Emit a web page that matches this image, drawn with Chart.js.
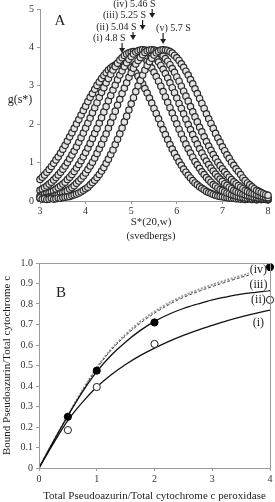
<!DOCTYPE html>
<html>
<head>
<meta charset="utf-8">
<script src="https://cdn.jsdelivr.net/npm/chart.js@4.4.1/dist/chart.umd.min.js"></script>
<style>
  html, body { margin: 0; padding: 0; background: #fff; }
  #wrap { position: relative; width: 275px; height: 502px; overflow: hidden; }
  canvas { position: absolute; left: 0; }
  #chartA { top: 0; }
  #chartB { top: 246px; }
</style>
</head>
<body>
<div id="wrap">
  <canvas id="chartA" width="275" height="246"></canvas>
  <canvas id="chartB" width="275" height="256"></canvas>
</div>
<script>
// ---- panel A : g(s*) distributions ----
const sedCoef = [
  3, 3.05, 3.1, 3.15, 3.2, 3.25, 3.3, 3.35, 3.4, 3.45,
  3.5, 3.55, 3.6, 3.65, 3.7, 3.75, 3.8, 3.85, 3.9, 3.95,
  4, 4.05, 4.1, 4.15, 4.2, 4.25, 4.3, 4.35, 4.4, 4.45,
  4.5, 4.55, 4.6, 4.65, 4.7, 4.75, 4.8, 4.85, 4.9, 4.95,
  5, 5.05, 5.1, 5.15, 5.2, 5.25, 5.3, 5.35, 5.4, 5.45,
  5.5, 5.55, 5.6, 5.65, 5.7, 5.75, 5.8, 5.85, 5.9, 5.95,
  6, 6.05, 6.1, 6.15, 6.2, 6.25, 6.3, 6.35, 6.4, 6.45,
  6.5, 6.55, 6.6, 6.65, 6.7, 6.75, 6.8, 6.85, 6.9, 6.95,
  7, 7.05, 7.1, 7.15, 7.2, 7.25, 7.3, 7.35, 7.4, 7.45,
  7.5, 7.55, 7.6, 7.65, 7.7, 7.75, 7.8, 7.85, 7.9, 7.95,
  8
];
const gI = [
  0.56, 0.62, 0.68, 0.75, 0.82, 0.90, 0.98, 1.07, 1.15, 1.25,
  1.35, 1.45, 1.56, 1.67, 1.78, 1.89, 2.01, 2.12, 2.24, 2.36,
  2.47, 2.59, 2.70, 2.80, 2.91, 3.01, 3.10, 3.19, 3.27, 3.34,
  3.41, 3.46, 3.51, 3.54, 3.57, 3.58, 3.59, 3.58, 3.56, 3.53,
  3.48, 3.41, 3.34, 3.25, 3.15, 3.05, 2.93, 2.81, 2.68, 2.55,
  2.41, 2.28, 2.14, 2.00, 1.86, 1.73, 1.60, 1.47, 1.35, 1.24,
  1.13, 1.02, 0.93, 0.83, 0.75, 0.67, 0.60, 0.53, 0.47, 0.42,
  0.37, 0.33, 0.29, 0.25, 0.22, 0.20, 0.17, 0.15, 0.13, 0.12,
  0.11, 0.10, 0.09, 0.08, 0.07, 0.07, 0.06, 0.06, 0.05, 0.06,
  0.04, 0.05, 0.06, 0.04, 0.05, 0.03, 0.05, 0.04, 0.05, 0.04,
  0.03
];
const gII = [
  0.28, 0.31, 0.35, 0.39, 0.44, 0.49, 0.55, 0.61, 0.68, 0.75,
  0.83, 0.91, 1.00, 1.10, 1.20, 1.30, 1.41, 1.53, 1.65, 1.77,
  1.90, 2.03, 2.16, 2.30, 2.43, 2.56, 2.70, 2.83, 2.95, 3.08,
  3.19, 3.30, 3.41, 3.50, 3.59, 3.67, 3.73, 3.79, 3.83, 3.86,
  3.88, 3.89, 3.88, 3.86, 3.83, 3.78, 3.72, 3.64, 3.55, 3.46,
  3.35, 3.24, 3.12, 2.99, 2.85, 2.71, 2.57, 2.43, 2.29, 2.15,
  2.01, 1.87, 1.74, 1.61, 1.48, 1.36, 1.25, 1.14, 1.03, 0.94,
  0.85, 0.76, 0.69, 0.61, 0.55, 0.49, 0.43, 0.39, 0.34, 0.30,
  0.27, 0.24, 0.21, 0.19, 0.16, 0.15, 0.13, 0.12, 0.10, 0.09,
  0.08, 0.07, 0.08, 0.06, 0.07, 0.05, 0.06, 0.04, 0.05, 0.05,
  0.04
];
const gIII = [
  0.13, 0.15, 0.17, 0.19, 0.21, 0.24, 0.27, 0.31, 0.35, 0.39,
  0.44, 0.49, 0.56, 0.62, 0.69, 0.77, 0.86, 0.95, 1.05, 1.15,
  1.26, 1.38, 1.50, 1.63, 1.76, 1.89, 2.03, 2.17, 2.32, 2.46,
  2.61, 2.75, 2.89, 3.02, 3.16, 3.28, 3.39, 3.50, 3.60, 3.69,
  3.76, 3.83, 3.88, 3.91, 3.93, 3.94, 3.93, 3.91, 3.88, 3.83,
  3.78, 3.70, 3.62, 3.53, 3.43, 3.32, 3.20, 3.08, 2.95, 2.82,
  2.68, 2.54, 2.41, 2.27, 2.13, 1.99, 1.86, 1.73, 1.60, 1.48,
  1.36, 1.25, 1.14, 1.04, 0.95, 0.86, 0.78, 0.70, 0.63, 0.57,
  0.51, 0.45, 0.41, 0.36, 0.32, 0.28, 0.25, 0.22, 0.20, 0.18,
  0.16, 0.14, 0.13, 0.11, 0.10, 0.09, 0.08, 0.08, 0.07, 0.07,
  0.06
];
const gIV = [
  0.07, 0.07, 0.08, 0.09, 0.10, 0.11, 0.13, 0.14, 0.16, 0.19,
  0.21, 0.24, 0.27, 0.31, 0.35, 0.40, 0.46, 0.52, 0.58, 0.65,
  0.73, 0.82, 0.91, 1.01, 1.12, 1.24, 1.36, 1.48, 1.62, 1.75,
  1.90, 2.04, 2.19, 2.34, 2.50, 2.65, 2.80, 2.94, 3.08, 3.22,
  3.34, 3.46, 3.57, 3.66, 3.74, 3.81, 3.87, 3.91, 3.93, 3.94,
  3.93, 3.91, 3.88, 3.84, 3.78, 3.71, 3.64, 3.55, 3.45, 3.35,
  3.23, 3.12, 2.99, 2.86, 2.73, 2.60, 2.46, 2.32, 2.19, 2.06,
  1.92, 1.80, 1.67, 1.55, 1.43, 1.32, 1.21, 1.11, 1.01, 0.92,
  0.84, 0.76, 0.69, 0.62, 0.56, 0.50, 0.45, 0.40, 0.36, 0.32,
  0.28, 0.25, 0.22, 0.20, 0.18, 0.16, 0.14, 0.13, 0.11, 0.10,
  0.09
];
const gV = [
  0.08, 0.05, 0.06, 0.04, 0.05, 0.07, 0.05, 0.06, 0.08, 0.07,
  0.09, 0.10, 0.11, 0.12, 0.14, 0.16, 0.18, 0.21, 0.24, 0.28,
  0.32, 0.36, 0.42, 0.48, 0.54, 0.61, 0.69, 0.78, 0.87, 0.98,
  1.09, 1.21, 1.33, 1.47, 1.61, 1.75, 1.90, 2.06, 2.21, 2.37,
  2.53, 2.69, 2.85, 3.00, 3.14, 3.28, 3.41, 3.53, 3.63, 3.72,
  3.80, 3.86, 3.90, 3.93, 3.94, 3.93, 3.92, 3.89, 3.85, 3.79,
  3.73, 3.66, 3.57, 3.48, 3.38, 3.28, 3.16, 3.05, 2.92, 2.80,
  2.67, 2.54, 2.41, 2.27, 2.14, 2.02, 1.89, 1.76, 1.64, 1.53,
  1.41, 1.31, 1.20, 1.11, 1.01, 0.93, 0.84, 0.77, 0.69, 0.60,
  0.53, 0.47, 0.42, 0.37, 0.32, 0.28, 0.25, 0.22, 0.19, 0.17,
  0.15
];
const peakNames = ['(i) 4.8 S', '(ii) 5.04 S', '(iii) 5.25 S', '(iv) 5.46 S', '(v) 5.7 S'];
const peakValues = [4.8, 5.04, 5.25, 5.46, 5.7];
const ticksS = [3, 4, 5, 6, 7, 8];
const ticksG = [0, 1, 2, 3, 4, 5];

// ---- panel B : binding curves ----
const ratioTotal = [0, 0.25, 0.5, 0.75, 1, 1.25, 1.5, 1.75, 2, 2.25, 2.5, 2.75, 3, 3.25, 3.5, 3.75, 4];
const boundI = [0, 0.12, 0.232, 0.32, 0.395, 0.455, 0.505, 0.548, 0.585, 0.618, 0.647, 0.673, 0.696, 0.718, 0.737, 0.754, 0.77];
const boundII = [0, 0.13, 0.255, 0.37, 0.47, 0.55, 0.615, 0.67, 0.715, 0.75, 0.778, 0.80, 0.82, 0.835, 0.848, 0.857, 0.865];
const boundIII = [0, 0.13, 0.255, 0.375, 0.485, 0.575, 0.645, 0.705, 0.755, 0.797, 0.832, 0.86, 0.885, 0.908, 0.93, 0.95, 0.968];
const boundIV = [0, 0.13, 0.257, 0.378, 0.489, 0.58, 0.652, 0.713, 0.763, 0.805, 0.84, 0.869, 0.894, 0.917, 0.938, 0.958, 0.976];
const expRatio = [0.5, 1, 2, 4];
const expFilled = [0.25, 0.475, 0.71, 0.98];
const expOpen = [0.185, 0.395, 0.605, 0.82];
const curveNames = ['(i)', '(ii)', '(iii)', '(iv)'];

const serif = 'Liberation Serif';
const axisGrey = '#9a9a9a';
const tickFont = { family: serif, size: 10 };

function pts(xs, ys) {
  return xs.map((x, i) => ({ x: x, y: ys[i] }));
}

// text, arrows and axis titles of panel A
const panelADecor = {
  id: 'panelADecor',
  afterDatasetsDraw(chart) {
    const ctx = chart.ctx;
    const xs = chart.scales.x;
    const textY = [38, 27, 15, 4, 28];
    const tipY = [53, 40, 30, 18, 44];
    ctx.save();
    ctx.fillStyle = '#1e1e1e';
    ctx.strokeStyle = '#1e1e1e';
    ctx.textBaseline = 'middle';
    ctx.font = '15px "' + serif + '"';
    ctx.textAlign = 'center';
    ctx.fillText('A', 60, 21);
    ctx.font = '12px "' + serif + '"';
    ctx.fillText('g(s*)', 20, 100);
    ctx.font = '11px "' + serif + '"';
    ctx.fillText('S*(20,w)', 151, 222);
    ctx.font = '10.5px "' + serif + '"';
    ctx.fillText('(svedbergs)', 151, 236);

    ctx.font = '10px "' + serif + '"';
    peakValues.forEach((v, i) => {
      const px = xs.getPixelForValue(v);
      if (i === 4) {
        ctx.textAlign = 'left';
        ctx.fillText(peakNames[i], px - 7, textY[i]);
      } else {
        ctx.textAlign = 'right';
        ctx.fillText(peakNames[i], px + 3.5, textY[i]);
      }
      ctx.lineWidth = 1.2;
      ctx.beginPath();
      ctx.moveTo(px, textY[i] + 5);
      ctx.lineTo(px, tipY[i] - 4);
      ctx.stroke();
      ctx.beginPath();
      ctx.moveTo(px - 3, tipY[i] - 5);
      ctx.lineTo(px + 3, tipY[i] - 5);
      ctx.lineTo(px, tipY[i]);
      ctx.closePath();
      ctx.fill();
    });
    ctx.restore();
  }
};

const ring = {
  showLine: false,
  pointRadius: 3.2,
  pointBorderWidth: 1.2,
  borderColor: '#2a2a2a',
  backgroundColor: '#e4e4e4',
  pointBorderColor: '#2a2a2a',
  pointBackgroundColor: '#e4e4e4',
  clip: false
};

new Chart(document.getElementById('chartA'), {
  type: 'scatter',
  data: {
    datasets: [gV, gIV, gIII, gII, gI].map((vals, i) => Object.assign({ label: 'g' + i, data: pts(sedCoef, vals) }, ring))
  },
  options: {
    responsive: false,
    animation: false,
    layout: { padding: { left: 0, right: 7, top: 6, bottom: 0 } },
    plugins: { legend: { display: false }, tooltip: { enabled: false } },
    scales: {
      x: {
        type: 'linear', min: ticksS[0], max: ticksS[ticksS.length - 1],
        afterBuildTicks: s => { s.ticks = ticksS.map(v => ({ value: v })); },
        ticks: { padding: 1, color: '#333', font: tickFont },
        grid: { drawOnChartArea: false, tickLength: 3, color: axisGrey },
        border: { color: axisGrey },
        afterFit: s => { s.height = 45; }
      },
      y: {
        min: ticksG[0], max: ticksG[ticksG.length - 1],
        afterBuildTicks: s => { s.ticks = ticksG.map(v => ({ value: v })); },
        ticks: { padding: 3, color: '#333', font: tickFont },
        grid: { drawOnChartArea: false, tickLength: 3, color: axisGrey },
        border: { color: axisGrey },
        afterFit: s => { s.width = 40; }
      }
    }
  },
  plugins: [panelADecor]
});

// box, panel letter and curve names of panel B
const panelBDecor = {
  id: 'panelBDecor',
  afterDatasetDraw(chart, args) {
    if (args.index !== 2) return;
    const ctx = chart.ctx;
    const { x: xs, y: ys } = chart.scales;
    const labelY = [0.71, 0.82, 0.895, 0.965];
    ctx.save();
    ctx.font = '12px "' + serif + '"';
    ctx.textAlign = 'center';
    ctx.textBaseline = 'middle';
    curveNames.forEach((name, i) => {
      const px = xs.getPixelForValue(3.8);
      const py = ys.getPixelForValue(labelY[i]);
      const w = ctx.measureText(name).width;
      ctx.fillStyle = '#fff';
      ctx.fillRect(px - w / 2 - 1, py - 6, w + 2, 12);
      ctx.fillStyle = '#1e1e1e';
      ctx.fillText(name, px, py);
    });
    ctx.restore();
  },
  afterDraw(chart) {
    const ctx = chart.ctx;
    const a = chart.chartArea;
    ctx.save();
    ctx.strokeStyle = axisGrey;
    ctx.lineWidth = 1;
    ctx.strokeRect(Math.round(a.left) + 0.5, Math.round(a.top) + 0.5, Math.round(a.right - a.left), Math.round(a.bottom - a.top));
    ctx.fillStyle = '#1e1e1e';
    ctx.font = '15px "' + serif + '"';
    ctx.textAlign = 'center';
    ctx.textBaseline = 'middle';
    ctx.fillText('B', 61, 47);
    ctx.restore();
  }
};

const lineBase = { pointRadius: 0, fill: false, cubicInterpolationMode: 'monotone', borderCapStyle: 'butt' };

new Chart(document.getElementById('chartB'), {
  type: 'scatter',
  data: {
    datasets: [
      { label: 'filled', data: pts(expRatio, expFilled), pointRadius: 3.6, pointBorderWidth: 1,
        borderColor: '#000', backgroundColor: '#000', pointBorderColor: '#000', pointBackgroundColor: '#000', clip: false },
      { label: 'open', data: pts(expRatio, expOpen), pointRadius: 3.6, pointBorderWidth: 1,
        borderColor: '#222', backgroundColor: '#fff', pointBorderColor: '#222', pointBackgroundColor: '#fff', clip: false },
      Object.assign({ label: curveNames[0], data: pts(ratioTotal, boundI), showLine: true, borderColor: '#111', borderWidth: 1.3 }, lineBase),
      Object.assign({ label: curveNames[1], data: pts(ratioTotal, boundII), showLine: true, borderColor: '#111', borderWidth: 1.3 }, lineBase),
      Object.assign({ label: curveNames[2], data: pts(ratioTotal, boundIII), showLine: true, borderColor: '#444', borderWidth: 1, borderDash: [3, 2] }, lineBase),
      Object.assign({ label: curveNames[3], data: pts(ratioTotal, boundIV), showLine: true, borderColor: '#9c9c9c', borderWidth: 2, borderDash: [2, 1.5] }, lineBase)
    ]
  },
  options: {
    responsive: false,
    animation: false,
    layout: { padding: { left: 0, right: 5, top: 17, bottom: 0 } },
    plugins: { legend: { display: false }, tooltip: { enabled: false } },
    scales: {
      x: {
        type: 'linear', min: 0, max: 4,
        ticks: { stepSize: 1, padding: 2, color: '#333', font: tickFont },
        grid: { drawOnChartArea: false, tickLength: 3, color: axisGrey },
        border: { display: false },
        title: { display: true, text: 'Total Pseudoazurin/Total cytochrome c peroxidase', color: '#1e1e1e',
          font: { family: serif, size: 11, lineHeight: 1 }, padding: 0 },
        afterFit: s => { s.height = 34; }
      },
      y: {
        min: 0, max: 1,
        ticks: { stepSize: 0.1, padding: 3, color: '#333', font: tickFont },
        grid: { drawOnChartArea: false, tickLength: 3, color: axisGrey },
        border: { display: false },
        title: { display: true, text: 'Bound Pseudoazurin/Total cytochrome c', color: '#1e1e1e',
          font: { family: serif, size: 11, lineHeight: 1.2 }, padding: 1 },
        afterFit: s => { s.width = 39; }
      }
    }
  },
  plugins: [panelBDecor]
});
</script>
</body>
</html>
